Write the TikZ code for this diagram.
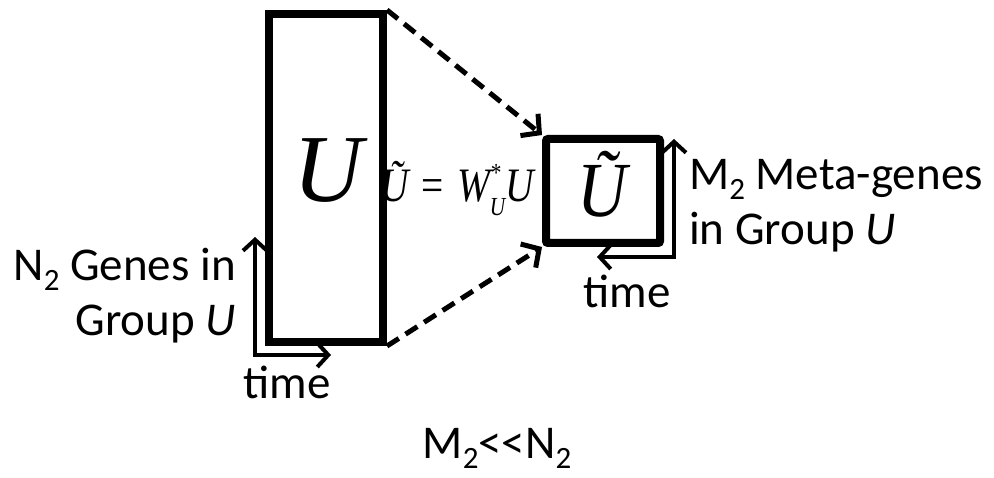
\documentclass[tikz,border=0pt]{standalone}
\usepackage{fontspec}
\usepackage{graphicx}
\setmainfont{Carlito}
\newfontfamily\tms{Liberation Serif}
\usetikzlibrary{arrows.meta}
\newcommand\lowtwo{\raisebox{-10pt}{\fontsize{31}{31}\selectfont 2}}
\begin{document}
\begin{tikzpicture}[x=1pt,y=-1pt,
  box/.style={draw, line width=8pt, inner sep=0pt, line join=miter},
  lbl/.style={font=\fontsize{47}{55}\selectfont, inner sep=0pt},
  axis/.style={line width=4pt, {Straight Barb[length=11pt,width=24pt]}-{Straight Barb[length=11pt,width=24pt]}},
  proj/.style={line width=5pt, dash pattern=on 14pt off 8pt, -{Straight Barb[length=13pt,width=28pt]}}]
\path[use as bounding box] (0,0) rectangle (994,478);
\node[box, minimum width=114pt, minimum height=328pt] (U) at (326,178) {};
\node[inner sep=0pt, anchor=base] (Ulbl) at (328,202) {\tms\itshape\fontsize{96}{96}\selectfont U};
\node[box, minimum width=114pt, minimum height=104pt, rounded corners=2pt] (Ut) at (603,191) {};
\node[inner sep=0pt, anchor=base] (Utlbl) at (602,217) {\scalebox{0.88}[1]{\tms\itshape\fontsize{78}{78}\selectfont Ũ}};
\node[inner sep=0pt, anchor=base] (eq) at (457,202) {\scalebox{0.82}[1]{\tms\fontsize{48}{48}\selectfont\itshape Ũ\,\,{\upshape =}\,\,W\rlap{\raisebox{0.42em}{\fontsize{26}{26}\selectfont *}}\raisebox{-0.28em}{\fontsize{26}{26}\selectfont U}U}};
\draw[proj] (U.north east) -- (Ut.north west);
\draw[proj] (U.south east) -- (Ut.south west);
\coordinate (y1) at (255,237);
\coordinate (x1) at (331,355);
\draw[axis] (y1) |- (x1);
\coordinate (y2) at (674,139);
\coordinate (x2) at (597,257);
\draw[axis] (y2) |- (x2);
\node[lbl, anchor=base east] (ng1) at (236,281) {N\lowtwo{} Genes in};
\node[lbl, anchor=base east] (ng2) at (236,336) {Group \textit{U}};
\node[lbl, anchor=base west] (mg1) at (689,190) {M\lowtwo{} Meta-genes};
\node[lbl, anchor=base west] (mg2) at (689,245) {in Group \textit{U}};
\node[lbl, anchor=base] (t1) at (287,399) {time};
\node[lbl, anchor=base] (t2) at (627,308) {time};
\node[lbl, anchor=base] (rel) at (497,458) {M\lowtwo{}\mbox{<}\kern0pt\mbox{<}N\lowtwo};
\end{tikzpicture}
\end{document}
